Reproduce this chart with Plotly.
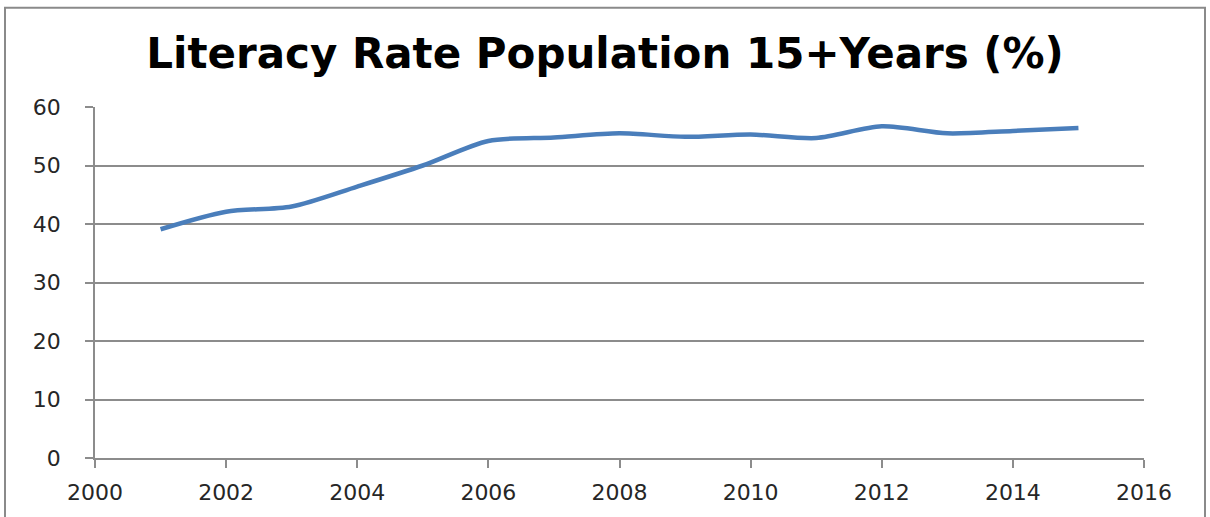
import plotly.graph_objects as go

# Literacy rate of the population aged 15 and over, by year
years = [2001, 2002, 2003, 2004, 2005, 2006, 2007, 2008,
         2009, 2010, 2011, 2012, 2013, 2014, 2015]
literacy_rate = [39.1, 42.1, 43.0, 46.4, 50.0, 54.2, 54.8, 55.5,
                 54.9, 55.3, 54.7, 56.7, 55.5, 55.9, 56.4]

x_ticks = [2000, 2002, 2004, 2006, 2008, 2010, 2012, 2014, 2016]
y_ticks = [0, 10, 20, 30, 40, 50, 60]

W, H = 1210, 517
L, R, T, B = 95, 66, 107, 56
pw, ph = W - L - R, H - T - B

grid_col = "#8c8c8c"
tick_font = dict(family="DejaVu Sans", size=22, color="#262626")

fig = go.Figure()
fig.add_trace(go.Scatter(
    x=years, y=literacy_rate, mode="lines",
    line=dict(color="#4a7ebb", width=4.5, shape="spline", smoothing=0.8),
    showlegend=False, hoverinfo="x+y",
))

fig.update_layout(
    width=W, height=H,
    margin=dict(l=L, r=R, t=T, b=B),
    paper_bgcolor="white", plot_bgcolor="white",
    title=dict(
        text="Literacy Rate Population 15+Years (%)",
        x=0.5, xanchor="center", y=1 - 53 / H, yanchor="middle",
        font=dict(family="DejaVu Sans", size=42, color="black", weight="bold"),
    ),
    xaxis=dict(
        range=[2000, 2016], tickvals=x_ticks, showgrid=False,
        showline=True, linecolor=grid_col, linewidth=1.5,
        ticks="outside", ticklen=8, tickcolor=grid_col, tickwidth=1.5,
        tickfont=tick_font, zeroline=False, ticklabelstandoff=6,
    ),
    yaxis=dict(
        range=[0, 60], tickvals=y_ticks, showgrid=True,
        gridcolor=grid_col, gridwidth=1.5,
        showline=True, linecolor=grid_col, linewidth=1.5,
        ticks="outside", ticklen=8, tickcolor=grid_col, tickwidth=1.5,
        tickfont=tick_font, zeroline=False, ticklabelstandoff=20,
    ),
    shapes=[dict(
        type="rect", xref="paper", yref="paper",
        x0=(5 - L) / pw, x1=(W - 5 - L) / pw,
        y0=-0.3, y1=(H - B - 7) / ph,
        line=dict(color="#8a8a8a", width=2), fillcolor="rgba(0,0,0,0)",
        layer="below",
    )],
)

fig.write_html("out.html")
